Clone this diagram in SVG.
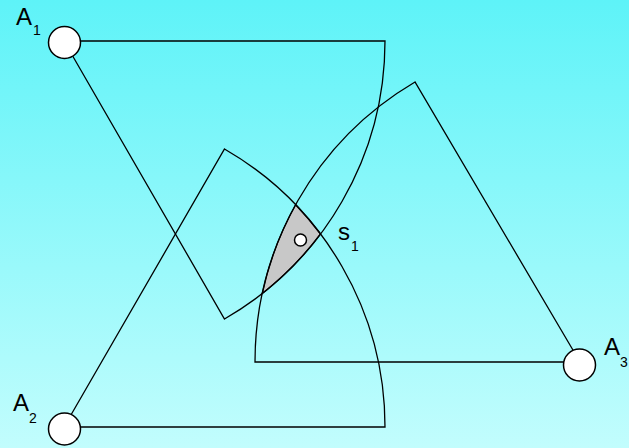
<svg xmlns="http://www.w3.org/2000/svg" width="629" height="448" viewBox="0 0 629 448">
  <defs>
    <linearGradient id="bg" x1="0" y1="0" x2="0" y2="1">
      <stop offset="0" stop-color="#5ef3f8"/>
      <stop offset="1" stop-color="#c2fdfd"/>
    </linearGradient>
  </defs>
  <style>
    .edge { fill: none; stroke: #000; stroke-width: 1.3; stroke-linejoin: miter; }
    .node { fill: #fff; stroke: #000; stroke-width: 1.5; }
    .lbl { font-family: "Liberation Sans", Arial, sans-serif; font-size: 24px; fill: #000; }
    .sub { font-family: "Liberation Sans", Arial, sans-serif; font-size: 14px; fill: #000; }
  </style>
  <rect x="0" y="0" width="629" height="448" fill="url(#bg)"/>

  <g id="s1-region">
    <path d="M295.6,204.7 A321,321 0 0 1 320.5,234 A321,321 0 0 1 262.3,293.4 A325,325 0 0 1 295.6,204.7 Z" fill="#c8c8c8" stroke="#000" stroke-width="1.3"/>
  </g>

  <g id="connectors">
    <path class="edge" d="M64,41 L385,41 A321,321 0 0 1 224.5,319 Z"/>
    <path class="edge" d="M64,427 L224.5,149 A321,321 0 0 1 385,427 Z"/>
    <path class="edge" d="M580,362 L415,82 A325,325 0 0 0 255,362 Z"/>
  </g>

  <g id="A1">
    <circle class="node" cx="64.5" cy="42.5" r="16"/>
    <text class="lbl" x="16" y="25">A</text>
    <text class="sub" x="33" y="35">1</text>
  </g>
  <g id="A2">
    <circle class="node" cx="64.5" cy="429" r="16"/>
    <text class="lbl" x="13" y="411">A</text>
    <text class="sub" x="29" y="423">2</text>
  </g>
  <g id="A3">
    <circle class="node" cx="579.5" cy="365" r="16"/>
    <text class="lbl" x="604" y="355">A</text>
    <text class="sub" x="620" y="367">3</text>
  </g>
  <g id="s1">
    <circle class="node" cx="300.5" cy="240" r="6"/>
    <text class="lbl" x="338" y="240">s</text>
    <text class="sub" x="351" y="251">1</text>
  </g>
</svg>
